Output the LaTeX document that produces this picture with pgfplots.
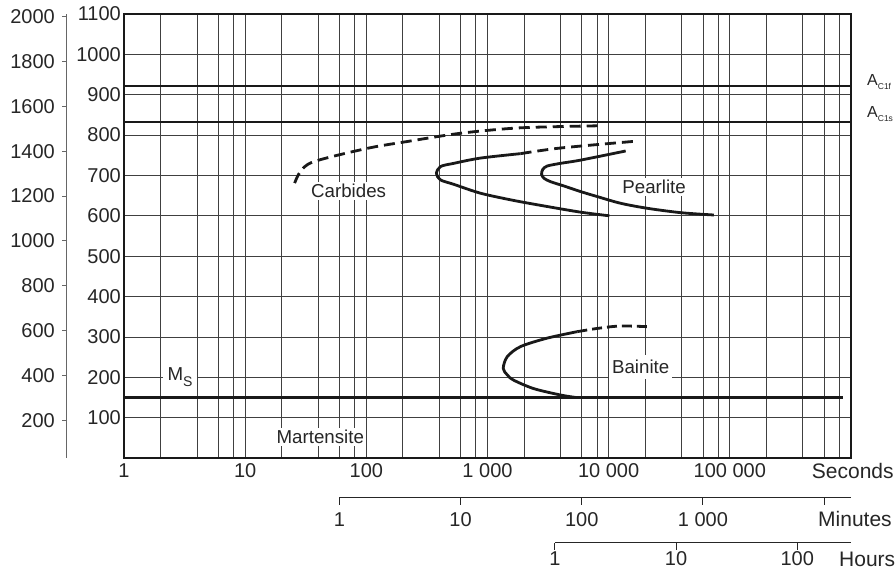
\documentclass[border=0pt]{standalone}
\usepackage{fontspec}
\setmainfont{Liberation Sans}
\usepackage{pgfplots}
\pgfplotsset{compat=1.18}
\tikzset{
  tickfont/.style={font=\fontsize{20bp}{24bp}\selectfont, text=black!85},
  unitfont/.style={font=\fontsize{21bp}{24bp}\selectfont, text=black!85},
  labfont/.style={font=\fontsize{18.7bp}{22bp}\selectfont, text=black!85, fill=white, inner sep=2bp},
  curve/.style={line width=2.8bp, black!90},
  thick line/.style={line width=2.6bp, black!90},
  dashcurve/.style={line width=2.8bp, black!90, dash pattern=on 11bp off 6bp},
}
\begin{document}
\begin{tikzpicture}[x=1bp,y=1bp]
\useasboundingbox (0,0) rectangle (896,569);
% Fahrenheit axis
\begin{axis}[
  at={(66bp,111bp)}, anchor=south west, scale only axis,
  width=20bp, height=444bp,
  xmin=0, xmax=1, ymin=32, ymax=2012,
  hide x axis, axis y line*=left, y axis line style={-},
  axis line style={black!60, line width=1bp},
  ytick={200,400,...,2000},
  tick align=outside, major tick length=4bp, yminorticks=false,
  ytick style={black!60, line width=1bp},
  /pgf/number format/assume math mode=true, /pgf/number format/1000 sep={},
  yticklabel style={tickfont, anchor=east, inner sep=0pt, xshift=-7bp},
]
\end{axis}
% main axis
\begin{axis}[
  at={(124bp,111bp)}, anchor=south west, scale only axis,
  width=727bp, height=444bp,
  xmode=log, xmin=1, xmax=1000000, ymin=0, ymax=1100,
  xtick={1,10,100,1000,10000,100000},
  xticklabels={1,10,100,1 000,10 000,100 000},
  minor xtick={2,4,6,8,20,40,60,80,200,400,600,800,2000,4000,6000,8000,20000,40000,60000,80000,200000,400000,600000,800000},
  ytick={100,200,...,1100},
  /pgf/number format/assume math mode=true,
  /pgf/number format/1000 sep={},
  major tick length=0pt, minor tick length=0pt,
  grid=both,
  major grid style={black!75, line width=0.8bp},
  minor grid style={black!75, line width=0.8bp},
  axis line style={black!90, line width=1.2bp},
  xticklabel style={tickfont, anchor=center, inner sep=0pt, yshift=-13bp},
  yticklabel style={tickfont, anchor=east, inner sep=0pt, xshift=-3bp},
]
% critical temperatures
\addplot[thick line] coordinates {(1,922) (1000000,922)};
\addplot[thick line] coordinates {(1,832) (1000000,832)};
\addplot[thick line] coordinates {(1,150) (860000,150)};
% carbides (dashed)
\addplot[dashcurve, smooth] coordinates {(25.6,681) (28.5,709) (36.7,734) (101.4,767) (217,784) (598,804.5) (1875,818) (8270,823)};
% pearlite start
\addplot[curve, smooth] coordinates {(10130,600) (5870,609) (3113,623) (1650,638) (875,656) (527,678) (409,689) (379,705) (409,722) (527,730) (875,743) (1874,754)};
\addplot[dashcurve, smooth] coordinates {(1874,754) (4012,768) (17030,785)};
% pearlite finish
\addplot[curve, smooth] coordinates {(13810,760.6) (5870,738) (4012,730) (3113,723.4) (2860,715) (2794,703) (2924,693) (3318,684.5) (4260,674) (5870,660) (8180,647) (12570,631) (20870,618.6) (39500,607.7) (73800,602)};
% bainite
\addplot[curve, smooth] coordinates {(5335,150) (4010,156) (2400,172) (1640,193) (1455,206) (1348,222) (1455,251) (1874,276) (3113,297) (5510,313)};
\addplot[dashcurve, smooth, dash pattern=on 10bp off 5bp] coordinates {(5510,313) (8070,321) (12560,327) (22250,325)};
% labels
\node[labfont] at (axis cs:71.4,662) {Carbides};
\node[labfont] at (axis cs:23700,672) {Pearlite};
\node[labfont, inner xsep=3bp, inner ysep=5bp] at (axis cs:18370,226) {Bainite};
\node[labfont] at (axis cs:41.7,52) {Martensite};
\node[labfont, anchor=base, inner xsep=5bp, inner ysep=1.5bp] at (axis cs:2.9,191.5) {M\raisebox{-6bp}{\fontsize{14bp}{14bp}\selectfont S}};
\end{axis}
% minutes axis
\begin{axis}[
  at={(339.4bp,71bp)}, anchor=south west, scale only axis,
  width=511.6bp, height=20bp,
  xmode=log, xmin=1, xmax=16666.667, ymin=0, ymax=1,
  hide y axis, axis x line*=bottom, x axis line style={-},
  axis line style={black!85, line width=1bp},
  xtick={1,10,100,1000,10000}, xticklabels={1,10,100,1 000,{}},
  xminorticks=false,
  tick align=outside, major tick length=7bp,
  xtick style={black!85, line width=1bp},
  xticklabel style={tickfont, anchor=center, inner sep=0pt, yshift=-15bp},
]
\end{axis}
% hours axis
\begin{axis}[
  at={(554.9bp,26bp)}, anchor=south west, scale only axis,
  width=296.1bp, height=20bp,
  xmode=log, xmin=1, xmax=277.778, ymin=0, ymax=1,
  hide y axis, axis x line*=bottom, x axis line style={-},
  axis line style={black!85, line width=1bp},
  xtick={1,10,100}, xticklabels={1,10,100},
  xminorticks=false,
  tick align=outside, major tick length=7bp,
  xtick style={black!85, line width=1bp},
  xticklabel style={tickfont, anchor=center, inner sep=0pt, yshift=-9bp},
]
\end{axis}
\node[anchor=west, inner sep=0pt, unitfont] at (811.7,98) {Seconds};
\node[anchor=west, inner sep=0pt, unitfont] at (818,49.7) {Minutes};
\node[anchor=west, inner sep=0pt, unitfont] at (839,10) {Hours};
\node[anchor=base west, inner sep=0pt, font=\fontsize{16bp}{16bp}\selectfont, text=black!85] at (867,483.5) {A\raisebox{-4bp}{\fontsize{8.5bp}{9bp}\selectfont C1f}};
\node[anchor=base west, inner sep=0pt, font=\fontsize{16bp}{16bp}\selectfont, text=black!85] at (867,451.5) {A\raisebox{-4bp}{\fontsize{8.5bp}{9bp}\selectfont C1s}};
\end{tikzpicture}
\end{document}
